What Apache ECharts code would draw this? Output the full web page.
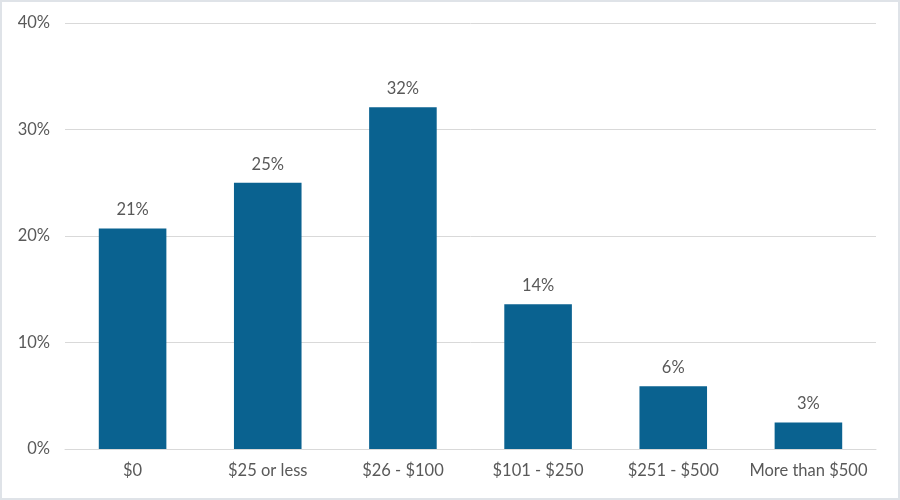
<!DOCTYPE html>
<html><head><meta charset="utf-8">
<script src="https://cdn.jsdelivr.net/npm/echarts@6/dist/echarts.min.js"></script>
<style>
html,body{margin:0;padding:0;background:#fff;}
#frame{position:absolute;left:0;top:0;width:896px;height:496px;border:2px solid #dfe3e8;}
#c{width:896px;height:496px;}
</style></head>
<body><div id="frame"><div id="c"></div></div>
<script>
const categories = ["$0", "$25 or less", "$26 - $100", "$101 - $250", "$251 - $500", "More than $500"];
const values = [20.7, 25.0, 32.1, 13.6, 5.9, 2.5];
const yTicks = [0, 10, 20, 30, 40];

const chart = echarts.init(document.getElementById('c'), null, {renderer: 'canvas'});
const font = 'Lato, "Open Sans", sans-serif';
chart.setOption({
  animation: false,
  grid: {left: 63, right: 22, top: 21, bottom: 49},
  xAxis: {
    type: 'category', data: categories,
    axisLine: {show: true, lineStyle: {color: '#d9d9d9', width: 1}},
    axisTick: {show: false},
    axisLabel: {color: '#595959', fontSize: 16.5, fontFamily: font, margin: 13, interval: 0}
  },
  yAxis: {
    type: 'value', min: yTicks[0], max: yTicks[yTicks.length-1], interval: 10,
    axisLine: {show: false}, axisTick: {show: false},
    splitLine: {lineStyle: {color: '#d9d9d9', width: 1}},
    axisLabel: {color: '#595959', fontSize: 16.5, fontFamily: font, margin: 15, formatter: v => v + '%'}
  },
  series: [{
    type: 'bar', data: values, barWidth: '50%',
    itemStyle: {color: '#0a6290'},
    label: {show: true, position: 'top', distance: 10, color: '#595959', fontSize: 16.5, fontFamily: font,
      formatter: p => Math.round(p.value) + '%'}
  }]
});
</script></body></html>
